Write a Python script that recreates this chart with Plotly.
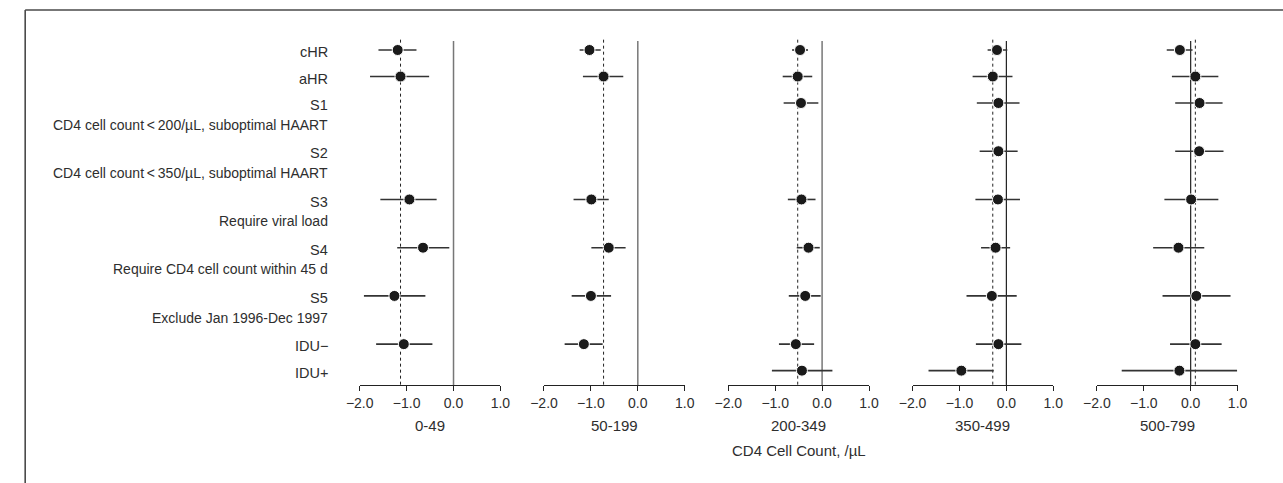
import plotly.graph_objects as go

# ---------------- data ----------------
rows = ["cHR", "aHR", "S1", "S2", "S3", "S4", "S5", "IDU\u2212", "IDU+"]
row_notes = ["", "", "CD4 cell count\u2009<\u2009200/\u00b5L, suboptimal HAART",
             "CD4 cell count\u2009<\u2009350/\u00b5L, suboptimal HAART",
             "Require viral load", "Require CD4 cell count within 45 d",
             "Exclude Jan 1996-Dec 1997", "", ""]
panels = ["0-49", "50-199", "200-349", "350-499", "500-799"]

est_0_49 = [-1.19, -1.13, None, None, -0.94, -0.65, -1.26, -1.06, None]
lo_0_49 = [-1.60, -1.78, None, None, -1.56, -1.20, -1.91, -1.65, None]
hi_0_49 = [-0.79, -0.52, None, None, -0.36, -0.09, -0.60, -0.45, None]

est_50_199 = [-1.03, -0.73, None, None, -0.99, -0.62, -1.00, -1.15, None]
lo_50_199 = [-1.24, -1.17, None, None, -1.37, -0.99, -1.41, -1.56, None]
hi_50_199 = [-0.79, -0.31, None, None, -0.62, -0.26, -0.57, -0.75, None]

est_200_349 = [-0.47, -0.52, -0.45, None, -0.44, -0.29, -0.36, -0.56, -0.43]
lo_200_349 = [-0.64, -0.84, -0.82, None, -0.73, -0.54, -0.71, -0.92, -1.07]
hi_200_349 = [-0.30, -0.21, -0.08, None, -0.14, -0.05, -0.03, -0.17, 0.22]

est_350_499 = [-0.20, -0.29, -0.17, -0.17, -0.18, -0.23, -0.31, -0.17, -0.96]
lo_350_499 = [-0.40, -0.72, -0.63, -0.57, -0.66, -0.54, -0.85, -0.65, -1.66]
hi_350_499 = [0.02, 0.13, 0.28, 0.24, 0.29, 0.08, 0.22, 0.32, -0.27]

est_500_799 = [-0.23, 0.10, 0.19, 0.18, 0.01, -0.26, 0.12, 0.10, -0.24]
lo_500_799 = [-0.51, -0.40, -0.33, -0.33, -0.56, -0.80, -0.60, -0.44, -1.47]
hi_500_799 = [0.04, 0.59, 0.68, 0.70, 0.59, 0.29, 0.85, 0.66, 0.99]

x_ticks = [-2.0, -1.0, 0.0, 1.0]
x_title = "CD4 Cell Count, /\u00b5L"

panel_est = [est_0_49, est_50_199, est_200_349, est_350_499, est_500_799]
panel_lo = [lo_0_49, lo_50_199, lo_200_349, lo_350_499, lo_500_799]
panel_hi = [hi_0_49, hi_50_199, hi_200_349, hi_350_499, hi_500_799]

# ---------------- layout geometry ----------------
W, H = 1283, 483
FONT = "Liberation Sans, Arial, sans-serif"
TXT = "#2e2e2e"

# row positions (units): notes add extra space below a row
note_gap = 0.82
ypos = []
u = 0.0
for i, r in enumerate(rows):
    ypos.append(u)
    u += 1.0 + (note_gap if row_notes[i] else 0.0)

row_px0, row_px = 50.0, 26.5      # pixel of first row, pixels per unit
axis_px = 385.0
y_bottom = (axis_px - row_px0) / row_px
y_top = -row_px0 / row_px
line_top = (41.0 - row_px0) / row_px

p_left0, p_step, p_w = 352.3, 187.8, 143.4

fig = go.Figure()
layout = dict(
    width=W, height=H,
    margin=dict(l=0, r=0, t=0, b=0),
    paper_bgcolor="white", plot_bgcolor="white",
    showlegend=False,
    font=dict(family=FONT, color=TXT, size=14),
    yaxis=dict(domain=[1 - axis_px / H, 1], range=[y_bottom, y_top],
               visible=False, showgrid=False, zeroline=False),
)
shapes = []
annotations = []

for p in range(len(panels)):
    ax = "x" if p == 0 else f"x{p+1}"
    axkey = "xaxis" if p == 0 else f"xaxis{p+1}"
    left = (p_left0 + p * p_step) / W
    right = (p_left0 + p * p_step + p_w) / W
    layout[axkey] = dict(
        domain=[left, right], range=[-2.0, 1.0], anchor="y",
        tickvals=x_ticks, ticktext=[f"{v:.1f}".replace("-", "\u2212") for v in x_ticks],
        ticks="outside", ticklen=5, tickwidth=1.3, tickcolor="#222",
        showline=True, linecolor="#222", linewidth=1.3,
        showgrid=False, zeroline=False,
        tickfont=dict(size=14, color=TXT, family=FONT),
    )
    est, lo, hi = panel_est[p], panel_lo[p], panel_hi[p]
    xs, ys, ep, em = [], [], [], []
    for i in range(len(rows)):
        if est[i] is None:
            continue
        xs.append(est[i]); ys.append(ypos[i])
        ep.append(hi[i] - est[i]); em.append(est[i] - lo[i])
    fig.add_trace(go.Scatter(
        x=xs, y=ys, xaxis=ax, yaxis="y", mode="markers",
        marker=dict(size=11, color="#1a1a1a", line=dict(color="white", width=1)),
        error_x=dict(type="data", symmetric=False, array=ep, arrayminus=em,
                     color="#333333", thickness=1.6, width=0),
        hoverinfo="x",
    ))
    xref = ax
    zero_col = "#777777" if p < 3 else "#222222"
    shapes.append(dict(type="line", xref=xref, yref="y", x0=0, x1=0,
                       y0=line_top, y1=y_bottom, layer="below",
                       line=dict(color=zero_col, width=1.5 if p < 3 else 1.2)))
    ref = est[rows.index("aHR")]
    shapes.append(dict(type="line", xref=xref, yref="y", x0=ref, x1=ref,
                       y0=line_top - 0.05, y1=y_bottom, layer="below",
                       line=dict(color="#222222", width=1, dash="dot")))
    annotations.append(dict(text=panels[p], xref="paper", yref="paper",
                            x=(left + right) / 2, y=1 - 425.0 / H,
                            xanchor="center", yanchor="middle", showarrow=False,
                            font=dict(size=15, color=TXT, family=FONT)))

annotations.append(dict(text=x_title, xref="paper", yref="paper",
                        x=800.0 / W, y=1 - 450.0 / H, xanchor="center",
                        yanchor="middle", showarrow=False,
                        font=dict(size=15, color=TXT, family=FONT)))

label_x = 322.0 / W
for i, r in enumerate(rows):
    annotations.append(dict(text=r, xref="paper", yref="y", x=label_x, y=ypos[i] + 0.08,
                            xanchor="right", yanchor="middle", showarrow=False,
                            font=dict(size=14.5, color=TXT, family=FONT)))
    if row_notes[i]:
        annotations.append(dict(text=row_notes[i], xref="paper", yref="y", x=label_x,
                                y=ypos[i] + note_gap, xanchor="right", yanchor="middle",
                                showarrow=False, font=dict(size=14, color=TXT, family=FONT)))

# outer frame (left and top edges visible)
fx, fy = 11.4, 10.0
shapes.append(dict(type="line", xref="paper", yref="paper", x0=fx / W, x1=1.01,
                   y0=1 - fy / H, y1=1 - fy / H, line=dict(color="#4a4a4a", width=1.6)))
shapes.append(dict(type="line", xref="paper", yref="paper", x0=fx / W, x1=fx / W,
                   y0=1 - fy / H, y1=-0.01, line=dict(color="#4a4a4a", width=1.6)))

layout["shapes"] = shapes
layout["annotations"] = annotations
fig.update_layout(**layout)
fig.write_html(
    "out.html",
    config={"displayModeBar": False},
    post_script="document.body.style.margin='0';document.body.style.overflow='hidden';",
)
